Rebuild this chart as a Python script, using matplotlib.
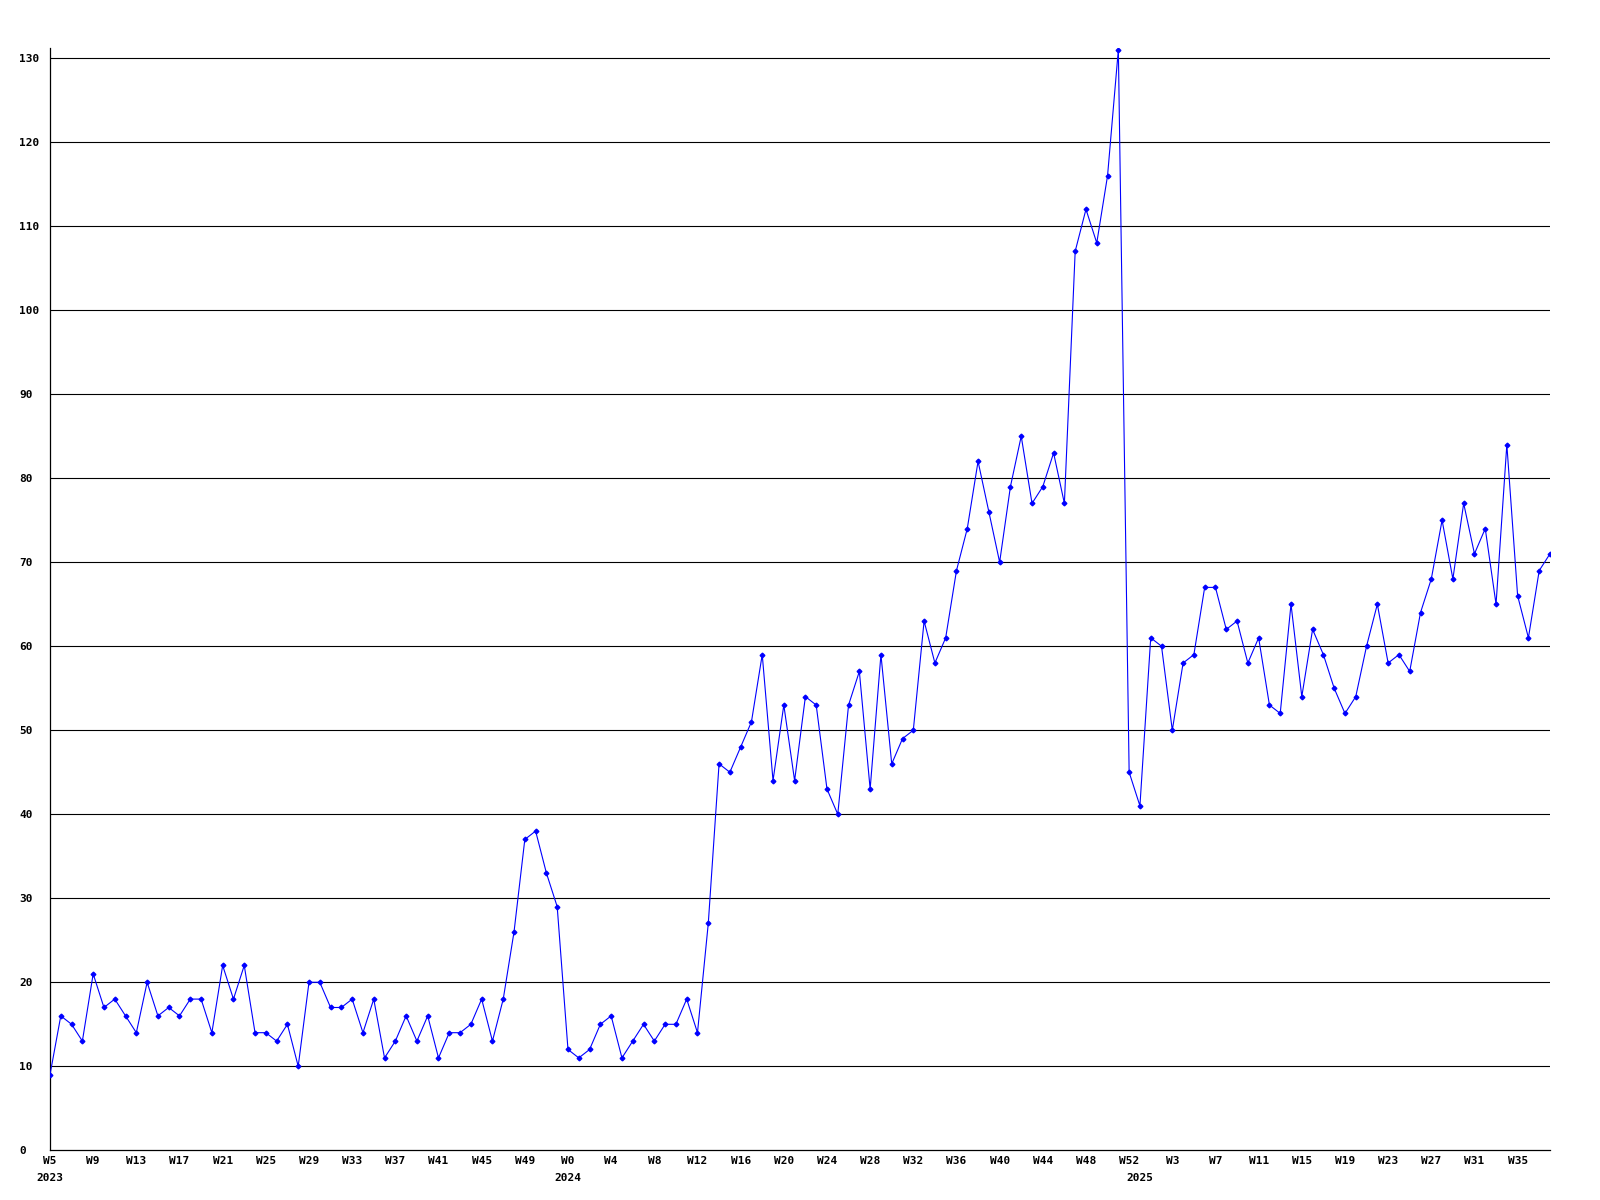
"""
weekly_counts.py

Draws the weekly count series from week 5 of 2023 to week 38 of 2025
as a plain line chart with small markers and horizontal grid lines.
"""

import matplotlib
matplotlib.use("Agg")
import matplotlib.pyplot as plt

# weekly values, one per week
counts_2023 = [9, 16, 15, 13, 21, 17, 18, 16, 14, 20, 16, 17, 16, 18, 18, 14,
               22, 18, 22, 14, 14, 13, 15, 10, 20, 20, 17, 17, 18, 14, 18, 11,
               13, 16, 13, 16, 11, 14, 14, 15, 18, 13, 18, 26, 37, 38, 33, 29]
counts_2024 = [12, 11, 12, 15, 16, 11, 13, 15, 13, 15, 15, 18, 14, 27, 46, 45,
               48, 51, 59, 44, 53, 44, 54, 53, 43, 40, 53, 57, 43, 59, 46, 49,
               50, 63, 58, 61, 69, 74, 82, 76, 70, 79, 85, 77, 79, 83, 77, 107,
               112, 108, 116, 131, 45]
counts_2025 = [41, 61, 60, 50, 58, 59, 67, 67, 62, 63, 58, 61, 53, 52, 65, 54,
               62, 59, 55, 52, 54, 60, 65, 58, 59, 57, 64, 68, 75, 68, 77, 71,
               74, 65, 84, 66, 61, 69, 71]

# first week number shown for each year
first_week = {"2023": 5, "2024": 0, "2025": 0}
y_ticks = list(range(0, 131, 10))


def build_labels():
    """Returns the week label of every point and the index where each year starts."""
    labels = []
    year_starts = {}
    for year, values in zip(["2023", "2024", "2025"],
                            [counts_2023, counts_2024, counts_2025]):
        year_starts[year] = len(labels)
        for i in range(len(values)):
            labels.append(f"W{first_week[year] + i}")
    return labels, year_starts


def plot_counts(output_file):
    values = counts_2023 + counts_2024 + counts_2025
    labels, year_starts = build_labels()
    x = list(range(len(values)))

    fig = plt.figure(figsize=(16, 12), dpi=100)
    ax = fig.add_axes([0.03125, 0.0414, 0.9375, 0.9186])

    for y in y_ticks[1:]:
        ax.axhline(y, color="black", lw=0.8, zorder=1)

    ax.plot(x, values, color="#0000ff", lw=0.8, marker="D", markersize=2.4,
            zorder=3)

    ax.set_xlim(0, len(values) - 1)
    ax.set_ylim(0, 131.2)

    font = dict(family="DejaVu Sans Mono", weight="bold", size=8)
    ticks = x[::4]
    ax.set_xticks(ticks)
    ax.set_xticklabels([labels[i] for i in ticks], **font)
    ax.set_yticks(y_ticks)
    ax.set_yticklabels([str(v) for v in y_ticks], ha="left", **font)
    ax.tick_params(axis="x", length=0, pad=4)
    ax.tick_params(axis="y", length=0, pad=22)

    for year, start in year_starts.items():
        ax.text(start, -0.021, year, transform=ax.get_xaxis_transform(),
                ha="center", va="top", **font)

    for side in ["top", "right"]:
        ax.spines[side].set_visible(False)
    for side in ["left", "bottom"]:
        ax.spines[side].set_color("black")
        ax.spines[side].set_linewidth(0.9)

    fig.savefig(output_file, dpi=100, facecolor="white")
    print(f"Saved chart to {output_file}")


if __name__ == "__main__":
    plot_counts("out.png")
